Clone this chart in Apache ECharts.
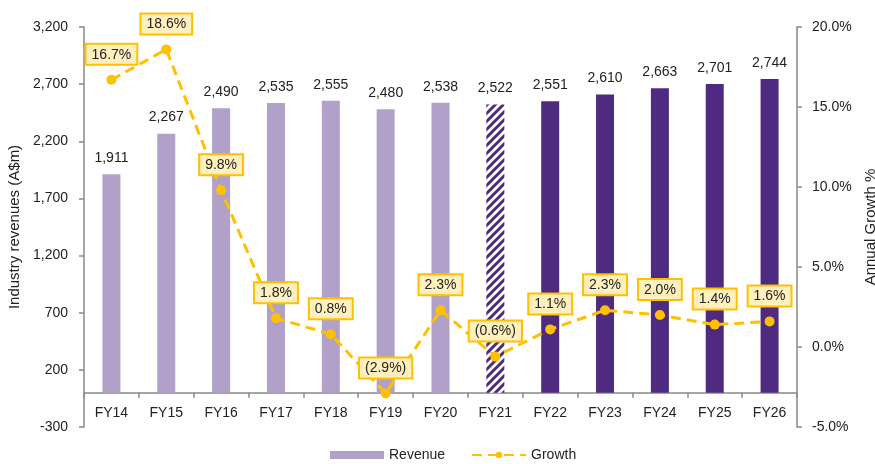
<!DOCTYPE html>
<html>
<head>
<meta charset="utf-8">
<script src="https://cdn.jsdelivr.net/npm/echarts@6/dist/echarts.min.js"></script>
<style>
  html, body { margin: 0; padding: 0; background: #fff; }
  #chart { width: 875px; height: 464px; }
</style>
</head>
<body>
<div id="chart"></div>
<script>
const categories = ['FY14', 'FY15', 'FY16', 'FY17', 'FY18', 'FY19', 'FY20', 'FY21', 'FY22', 'FY23', 'FY24', 'FY25', 'FY26']
const revenue = [1911, 2267, 2490, 2535, 2555, 2480, 2538, 2522, 2551, 2610, 2663, 2701, 2744]
const growth = [16.7, 18.6, 9.8, 1.8, 0.8, -2.9, 2.3, -0.6, 1.1, 2.3, 2.0, 1.4, 1.6]
// 0 = actual, 1 = estimate (hatched), 2 = forecast
const periodType = [0, 0, 0, 0, 0, 0, 0, 1, 2, 2, 2, 2, 2]

const lightPurple = '#b1a0c7'
const darkPurple = '#4e2b80'
const gold = '#ffc000'
const font = '"Liberation Sans", Arial, sans-serif'
const fs = 14

// grid box, the category axis sits on the revenue zero line
const gridTop = 27
const gridBottom = 37
const revMin = -300
const revMax = 3200
const zeroOffset = (464 - gridTop - gridBottom) * (0 - revMin) / (revMax - revMin)

// diagonal hatch for the estimate year
function hatch() {
  const c = document.createElement('canvas')
  c.width = 8
  c.height = 8
  const ctx = c.getContext('2d')
  ctx.fillStyle = '#fff'
  ctx.fillRect(0, 0, 8, 8)
  ctx.strokeStyle = darkPurple
  ctx.lineWidth = 3
  ctx.beginPath()
  ctx.moveTo(-2, 10); ctx.lineTo(10, -2)
  ctx.moveTo(-6, 6); ctx.lineTo(6, -6)
  ctx.moveTo(2, 14); ctx.lineTo(14, 2)
  ctx.stroke()
  return c
}
const hatchPattern = { image: hatch(), repeat: 'repeat' }

function fmtPct(v) {
  return v < 0 ? '(' + Math.abs(v).toFixed(1) + '%)' : v.toFixed(1) + '%'
}

const barData = revenue.map((v, i) => ({
  value: v,
  itemStyle: {
    color: periodType[i] === 0 ? lightPurple : (periodType[i] === 1 ? hatchPattern : darkPurple)
  }
}))

const chart = echarts.init(document.getElementById('chart'))
chart.setOption({
  animation: false,
  textStyle: { fontFamily: font },
  grid: { left: 84, right: 78, top: gridTop, bottom: gridBottom, outerBoundsMode: 'none', containLabel: false },
  legend: {
    bottom: -3,
    left: 325,
    itemWidth: 54,
    itemHeight: 8,
    itemGap: 26,
    textStyle: { fontSize: fs, color: '#222', fontFamily: font },
    data: [
      { name: 'Revenue', icon: 'rect', itemStyle: { color: lightPurple } },
      { name: 'Growth' }
    ]
  },
  xAxis: {
    type: 'category',
    data: categories,
    offset: -zeroOffset,
    axisLine: { onZero: false, lineStyle: { color: '#888', width: 1.5 } },
    axisTick: { show: true, length: 5, lineStyle: { color: '#888', width: 1.5 } },
    axisLabel: { color: '#222', fontSize: fs, margin: 13 }
  },
  yAxis: [
    {
      type: 'value',
      min: revMin,
      max: revMax,
      interval: 500,
      name: 'Industry revenues (A$m)',
      nameLocation: 'middle',
      nameGap: 54,
      nameTextStyle: { fontSize: 15, color: '#222' },
      splitLine: { show: false },
      axisLine: { show: true, lineStyle: { color: '#888', width: 1.5 } },
      axisTick: { show: true, length: 5, lineStyle: { color: '#888', width: 1.5 } },
      axisLabel: {
        color: '#222',
        fontSize: fs,
        margin: 16,
        formatter: v => v.toLocaleString('en-US')
      }
    },
    {
      type: 'value',
      min: -5,
      max: 20,
      interval: 5,
      name: 'Annual Growth %',
      nameLocation: 'middle',
      nameGap: 66,
      nameTextStyle: { fontSize: 15, color: '#222' },
      splitLine: { show: false },
      axisLine: { show: true, lineStyle: { color: '#888', width: 1.5 } },
      axisTick: { show: true, length: 5, lineStyle: { color: '#888', width: 1.5 } },
      axisLabel: {
        color: '#222',
        fontSize: fs,
        margin: 15,
        formatter: v => v.toFixed(1) + '%'
      }
    }
  ],
  series: [
    {
      name: 'Revenue',
      type: 'bar',
      yAxisIndex: 0,
      barWidth: 18,
      data: barData,
      itemStyle: { color: lightPurple },
      label: {
        show: true,
        position: 'top',
        distance: 9,
        color: '#222',
        fontSize: fs,
        formatter: p => p.value.toLocaleString('en-US')
      }
    },
    {
      name: 'Growth',
      type: 'line',
      yAxisIndex: 1,
      data: growth,
      z: 5,
      symbol: 'circle',
      symbolSize: 10,
      itemStyle: { color: gold },
      lineStyle: { color: gold, width: 3, type: [10, 6] },
      label: {
        show: true,
        position: 'top',
        distance: 11,
        color: '#222',
        fontSize: fs,
        backgroundColor: '#fff0bd',
        borderColor: gold,
        borderWidth: 2,
        padding: [3, 5, 2, 5],
        formatter: p => fmtPct(p.value)
      }
    }
  ]
})
</script>
</body>
</html>
